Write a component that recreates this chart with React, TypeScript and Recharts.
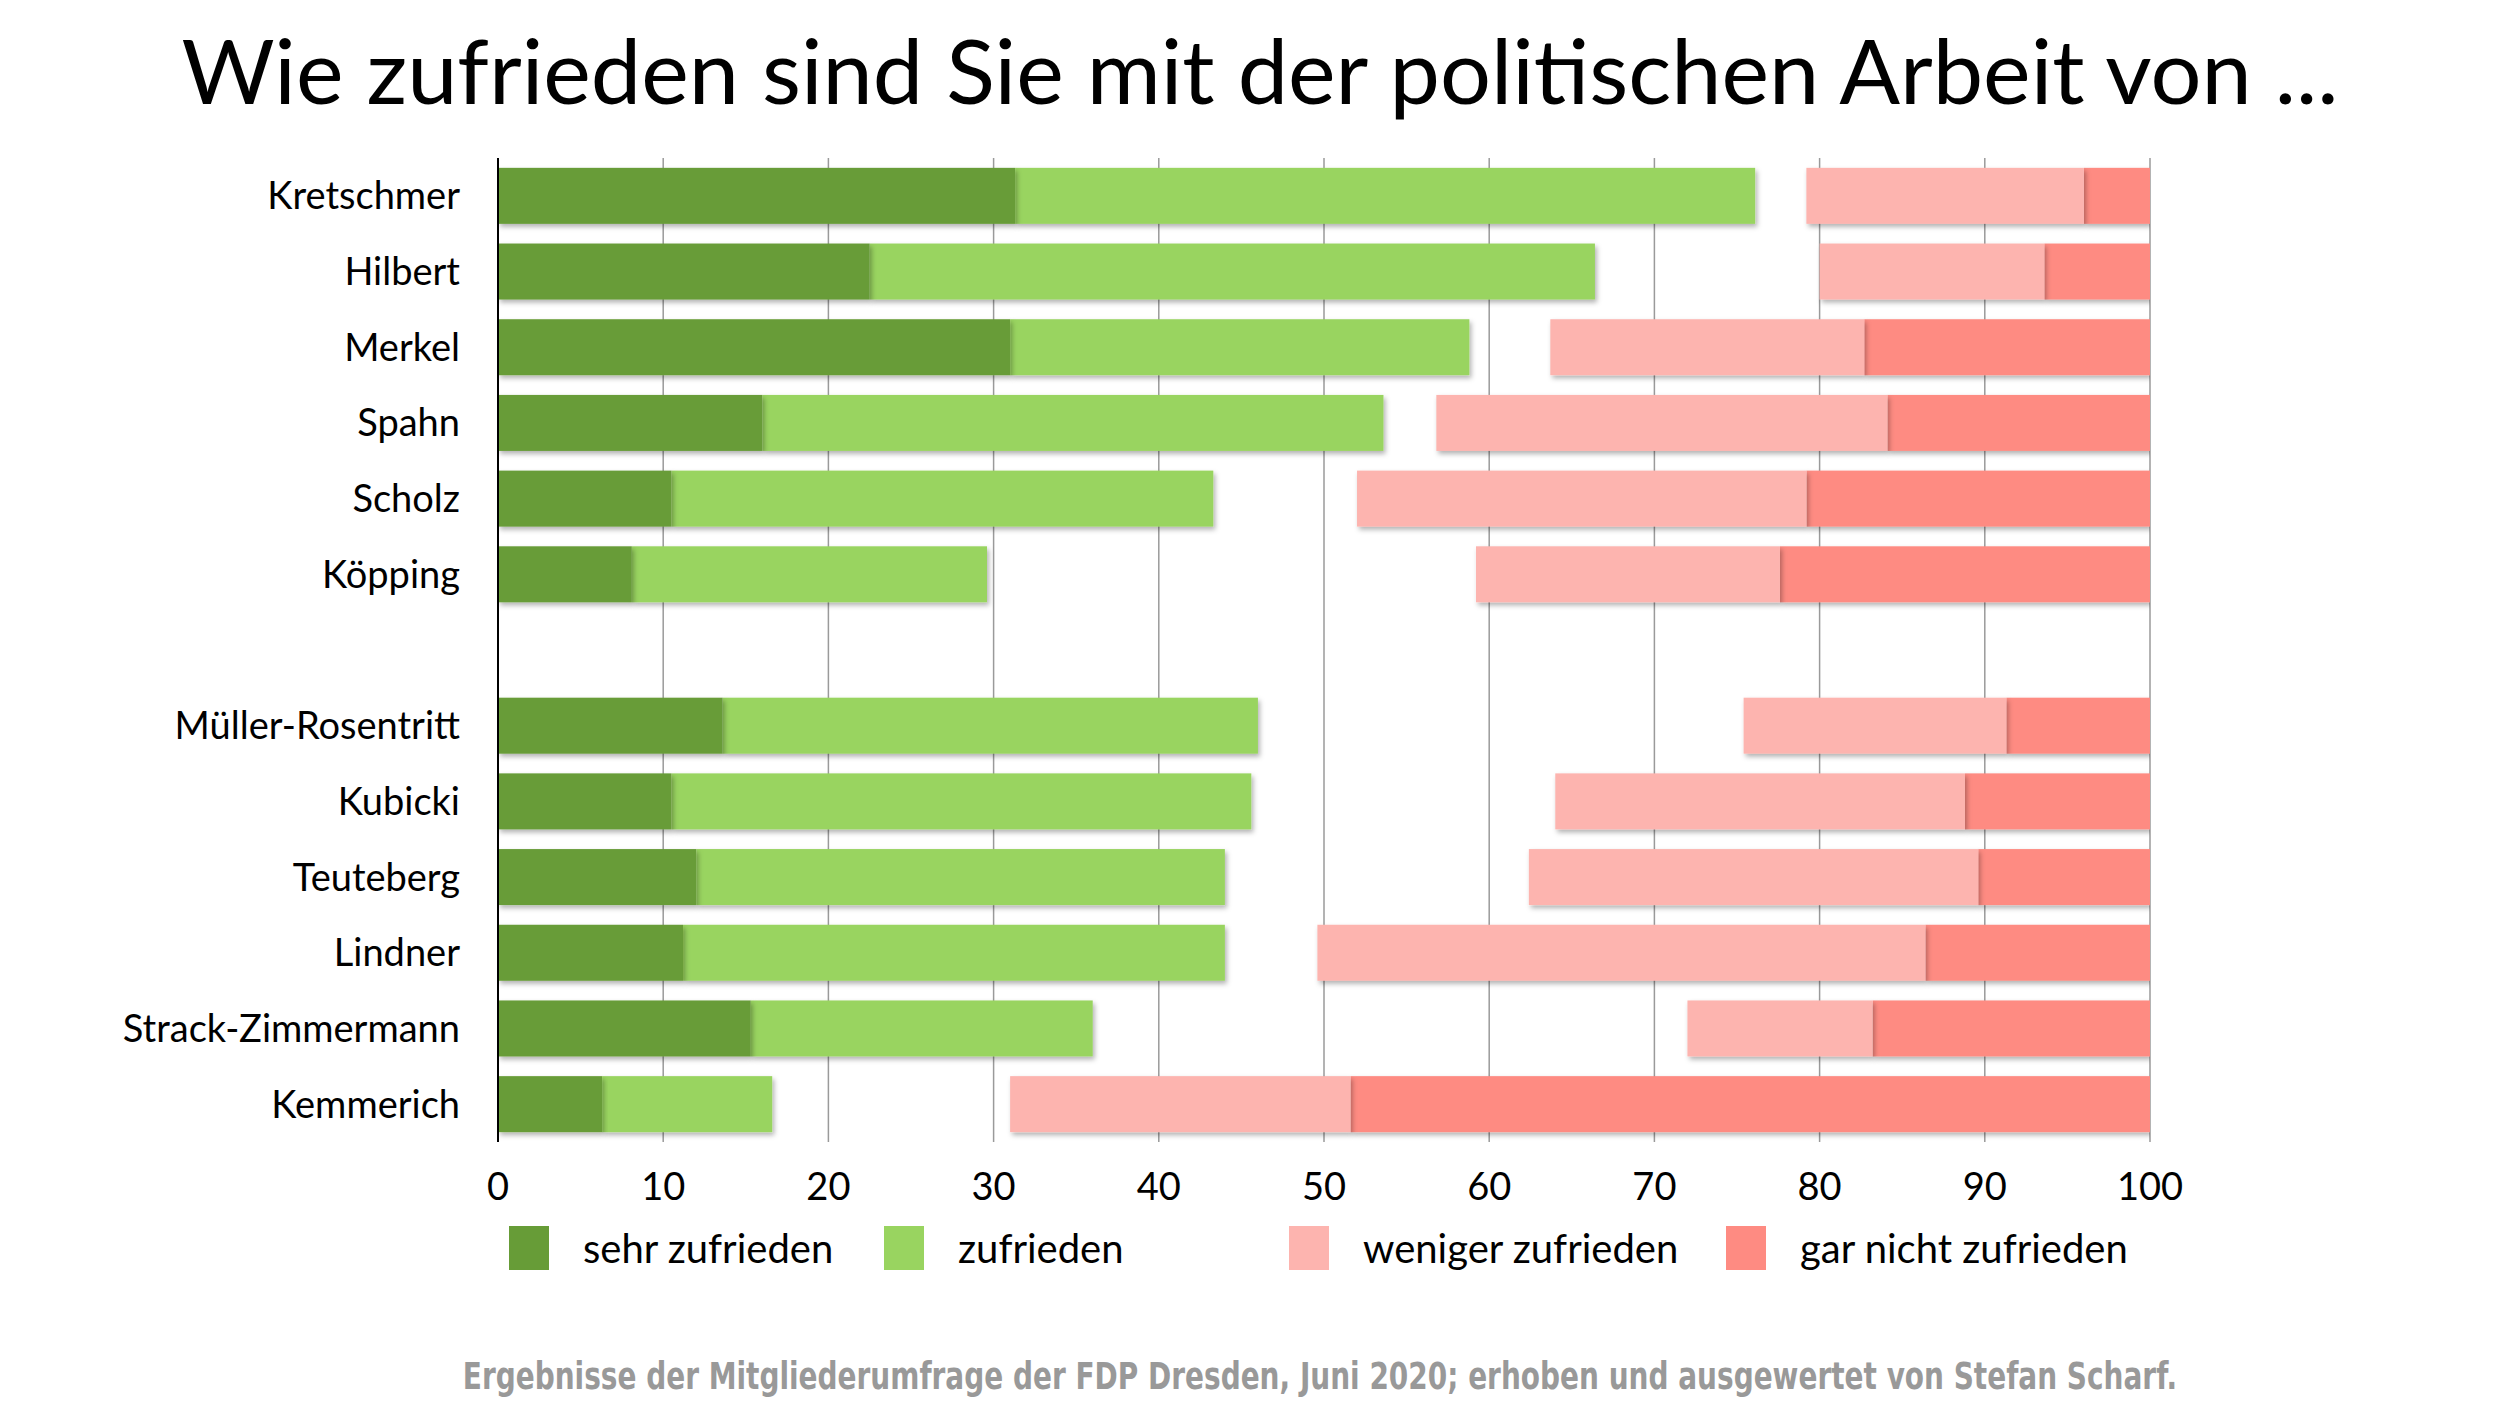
import { BarChart, Bar, XAxis, YAxis, CartesianGrid } from "recharts";

const categories = [
  "Kretschmer",
  "Hilbert",
  "Merkel",
  "Spahn",
  "Scholz",
  "Köpping",
  "",
  "Müller-Rosentritt",
  "Kubicki",
  "Teuteberg",
  "Lindner",
  "Strack-Zimmermann",
  "Kemmerich",
];

// Prozent je Antwort
const sehrZufrieden = [31.3, 22.5, 31.0, 16.0, 10.5, 8.1, 0, 13.6, 10.5, 12.0, 11.2, 15.3, 6.3];
const zufrieden = [44.8, 43.9, 27.8, 37.6, 32.8, 21.5, 0, 32.4, 35.1, 32.0, 32.8, 20.7, 10.3];
const wenigerZufrieden = [16.8, 13.6, 19.0, 27.3, 27.2, 18.4, 0, 15.9, 24.8, 27.2, 36.8, 11.2, 20.6];
const garNichtZufrieden = [4.0, 6.4, 17.3, 15.9, 20.8, 22.4, 0, 8.7, 11.2, 10.4, 13.6, 16.8, 48.4];

const xTicks = [0, 10, 20, 30, 40, 50, 60, 70, 80, 90, 100];

const legendLabels = ["sehr zufrieden", "zufrieden", "weniger zufrieden", "gar nicht zufrieden"];
const colors = ["#679c37", "#99d460", "#fdb4af", "#fe8b82"];
const legendLeft = [501, 876, 1281, 1718];

const FONT = "Lato, 'Open Sans', sans-serif";

const data = categories.map((name, i) => {
  const total = sehrZufrieden[i] + zufrieden[i] + wenigerZufrieden[i] + garNichtZufrieden[i];
  return {
    name,
    sehr: sehrZufrieden[i],
    zuf: zufrieden[i],
    // "keine Angabe" bleibt als Lücke zwischen grün und rot
    gap: total > 0 ? 100 - total : 0,
    weniger: wenigerZufrieden[i],
    garNicht: garNichtZufrieden[i],
  };
});

const ShadowRect = (props: any) => {
  const { x, y, width, height, fill } = props;
  if (!width || width <= 0) return <g />;
  return <rect x={x} y={y} width={width} height={height} fill={fill} filter="url(#barShadow)" />;
};

const App = () => {
  return (
    <div style={{ position: "relative", width: 2504, height: 1400, background: "#fff", fontFamily: FONT }}>
      <div
        style={{
          position: "absolute",
          top: 16,
          left: 0,
          width: 2504,
          textAlign: "center",
          fontSize: 90,
          lineHeight: 1,
          color: "#000",
          whiteSpace: "nowrap",
        }}
      >
        Wie zufrieden sind Sie mit der politischen Arbeit von ...
      </div>

      <div style={{ position: "absolute", top: 0, left: 0 }}>
        <BarChart
          width={2504}
          height={1300}
          data={data}
          layout="vertical"
          reverseStackOrder
          barCategoryGap="13%"
          margin={{ top: 150, right: 362, bottom: 106, left: 0 }}
        >
          <defs>
            <filter id="barShadow" x="-5%" y="-30%" width="110%" height="170%">
              <feDropShadow dx="2" dy="3" stdDeviation="2.5" floodColor="#000" floodOpacity="0.3" />
            </filter>
          </defs>
          <CartesianGrid horizontal={false} stroke="#9a9a9a" strokeWidth={1.5} />
          <XAxis
            type="number"
            domain={[0, 100]}
            allowDataOverflow
            ticks={xTicks}
            axisLine={false}
            tickLine={false}
            tickMargin={25}
            height={60}
            tick={{ fontSize: 38, fill: "#000", fontFamily: FONT }}
          />
          <YAxis
            type="category"
            dataKey="name"
            width={490}
            interval={0}
            axisLine={{ stroke: "#000", strokeWidth: 2 }}
            tickLine={false}
            tickMargin={32}
            tick={{ fontSize: 38, fill: "#000", fontFamily: FONT }}
          />
          {/* reverse declaration + reverseStackOrder: left segments drawn on top */}
          <Bar dataKey="garNicht" stackId="a" fill={colors[3]} shape={ShadowRect} isAnimationActive={false} />
          <Bar dataKey="weniger" stackId="a" fill={colors[2]} shape={ShadowRect} isAnimationActive={false} />
          <Bar dataKey="gap" stackId="a" fill="transparent" isAnimationActive={false} />
          <Bar dataKey="zuf" stackId="a" fill={colors[1]} shape={ShadowRect} isAnimationActive={false} />
          <Bar dataKey="sehr" stackId="a" fill={colors[0]} shape={ShadowRect} isAnimationActive={false} />
        </BarChart>
      </div>

      {legendLabels.map((label, i) => (
        <div
          key={label}
          style={{ position: "absolute", left: legendLeft[i], top: 1218, display: "flex", alignItems: "center" }}
        >
          <div style={{ width: 40, height: 44, background: colors[i] }} />
          <span style={{ marginLeft: 34, fontSize: 40, color: "#000", lineHeight: 1 }}>{label}</span>
        </div>
      ))}

      <div
        style={{
          position: "absolute",
          top: 1350,
          left: 1312,
          transform: "translateX(-50%) scaleX(0.84)",
          fontFamily: "'DejaVu Sans', sans-serif",
          fontStretch: "condensed",
          fontWeight: 700,
          fontSize: 37,
          lineHeight: 1,
          color: "#999",
          whiteSpace: "nowrap",
        }}
      >
        Ergebnisse der Mitgliederumfrage der FDP Dresden, Juni 2020; erhoben und ausgewertet von Stefan Scharf.
      </div>
    </div>
  );
};

export default App;
